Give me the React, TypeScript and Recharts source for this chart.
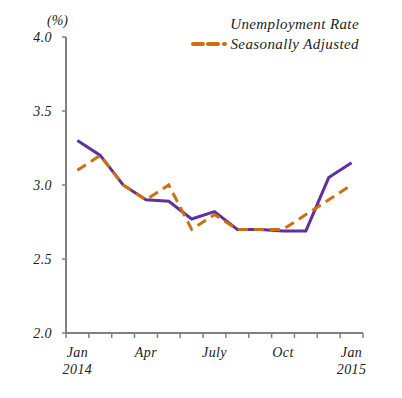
import { Line, LineChart, XAxis, YAxis } from "recharts";

const months = ["Jan 2014", "Feb", "Mar", "Apr", "May", "Jun", "Jul", "Aug", "Sep", "Oct", "Nov", "Dec", "Jan 2015"];
const unemploymentRate = [3.3, 3.2, 3.0, 2.9, 2.89, 2.77, 2.82, 2.7, 2.7, 2.69, 2.69, 3.05, 3.15];
const seasonallyAdjusted = [3.1, 3.2, 3.0, 2.9, 3.0, 2.7, 2.8, 2.7, 2.7, 2.7, 2.8, 2.9, 3.0];
const yTicks = [2.0, 2.5, 3.0, 3.5, 4.0];
const xLabels: Record<number, [string, string]> = {
  0: ["Jan", "2014"],
  3: ["Apr", ""],
  6: ["July", ""],
  9: ["Oct", ""],
  12: ["Jan", "2015"],
};

const PURPLE = "#60309c";
const ORANGE = "#cc6f10";
const AXIS = "#808080";
const FONT = "'Liberation Serif', 'DejaVu Serif', serif";

const data = months.map((m, i) => ({
  i,
  month: m,
  rate: unemploymentRate[i],
  sa: seasonallyAdjusted[i],
}));

// tick marks sit on the month boundaries, labels on the month centres
const boundaries = months.map((_, i) => i - 0.5).concat([months.length - 0.5]);
const xTicks = [...boundaries, ...Object.keys(xLabels).map(Number)].sort((a, b) => a - b);

function XTick(props: any) {
  const { x, y, payload } = props;
  const v = payload.value as number;
  const lbl = xLabels[v];
  if (lbl) {
    return (
      <g>
        <text x={x} y={y + 24} textAnchor="middle" fontFamily={FONT} fontStyle="italic" fontSize={14} fill="#222" letterSpacing={0.4}>
          {lbl[0]}
        </text>
        {lbl[1] && (
          <text x={x} y={y + 41} textAnchor="middle" fontFamily={FONT} fontStyle="italic" fontSize={14} fill="#222" letterSpacing={0.4}>
            {lbl[1]}
          </text>
        )}
      </g>
    );
  }
  return <line x1={x} x2={x} y1={y} y2={y + 5} stroke={AXIS} strokeWidth={1.5} />;
}

function LegendBox() {
  return (
    <div
      style={{
        position: "absolute",
        top: 14,
        right: 43,
        fontFamily: FONT,
        fontStyle: "italic",
        fontSize: 15,
        letterSpacing: 0.4,
        color: "#222",
        textAlign: "right",
        lineHeight: "20px",
      }}
    >
      <div>Unemployment Rate</div>
      <div style={{ display: "flex", alignItems: "center", justifyContent: "flex-end" }}>
        <svg width={38} height={10} style={{ marginRight: 1 }}>
          <line
            x1={2}
            x2={36}
            y1={5}
            y2={5}
            stroke={ORANGE}
            strokeWidth={4}
            strokeLinecap="round"
            strokeDasharray="10 5 10 6 1 10"
          />
        </svg>
        <span>Seasonally Adjusted</span>
      </div>
    </div>
  );
}

export default function App() {
  return (
    <div style={{ position: "absolute", left: 0, top: 0, width: 402, height: 398, background: "#fff" }}>
      <div
        style={{
          position: "absolute",
          left: 47,
          top: 13,
          fontFamily: FONT,
          fontStyle: "italic",
          fontSize: 14,
          color: "#222",
        }}
      >
        (%)
      </div>
      <LineChart width={402} height={398} data={data} margin={{ top: 37, right: 39, left: 0, bottom: 0 }}>
        <XAxis
          dataKey="i"
          type="number"
          domain={[-0.5, months.length - 0.5]}
          ticks={xTicks}
          interval={0}
          tickLine={false}
          tickSize={0}
          tickMargin={0}
          height={65}
          axisLine={{ stroke: AXIS, strokeWidth: 2 }}
          tick={<XTick />}
        />
        <YAxis
          type="number"
          domain={[2, 4]}
          ticks={yTicks}
          width={66}
          tickSize={4}
          tickMargin={10}
          tickFormatter={(v: number) => v.toFixed(1)}
          axisLine={{ stroke: AXIS, strokeWidth: 2 }}
          tickLine={{ stroke: AXIS, strokeWidth: 1.5 }}
          tick={{ fontFamily: FONT, fontStyle: "italic", fontSize: 14, fill: "#222", letterSpacing: 0.4 }}
        />
        <Line
          dataKey="rate"
          type="linear"
          stroke={PURPLE}
          strokeWidth={3}
          dot={false}
          isAnimationActive={false}
        />
        <Line
          dataKey="sa"
          type="linear"
          stroke={ORANGE}
          strokeWidth={3}
          strokeDasharray="10 6"
          dot={false}
          isAnimationActive={false}
        />
      </LineChart>
      <LegendBox />
    </div>
  );
}
